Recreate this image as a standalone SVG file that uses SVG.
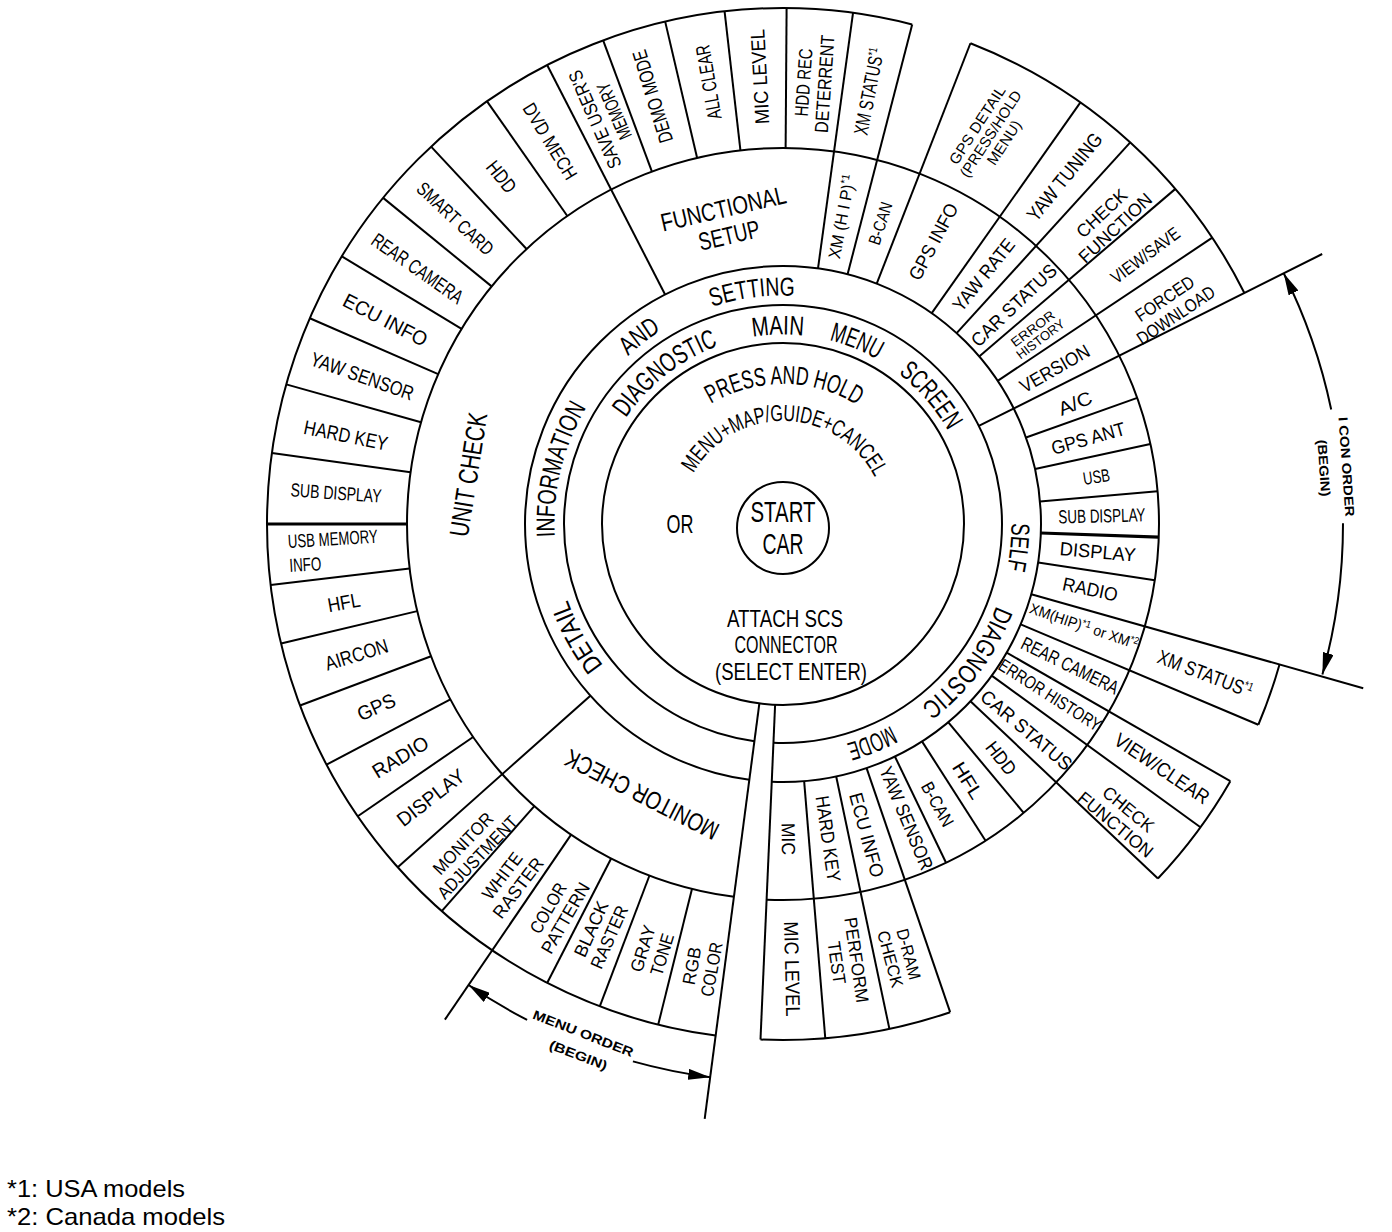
<svg xmlns="http://www.w3.org/2000/svg" width="1392" height="1232" viewBox="0 0 1392 1232">
<defs>
<style>
.ln{fill:none;stroke:#000;stroke-width:2}
.tk{stroke-width:3.2}
text{font-family:'Liberation Sans',Arial,sans-serif;fill:#000;text-anchor:middle}
.b{font-weight:bold}
</style>
<marker id="ah" markerWidth="22" markerHeight="11" refX="22" refY="5.5" orient="auto" markerUnits="userSpaceOnUse"><path d="M0,0 L22,5.5 L0,11 Z" fill="#000" stroke="none"/></marker>
<path id="b189" d="M783,713.5 A189.5,189.5 0 1 1 783,334.5 A189.5,189.5 0 1 1 783,713.5"/>
<path id="b228" d="M783,752.5 A228.5,228.5 0 1 1 783,295.5 A228.5,228.5 0 1 1 783,752.5"/>
<path id="t228" d="M783,295.5 A228.5,228.5 0 1 1 783,752.5 A228.5,228.5 0 1 1 783,295.5"/>
<path id="b140" d="M783,664 A140,140 0 1 1 783,384 A140,140 0 1 1 783,664"/>
<path id="b103" d="M783,627 A103,103 0 1 1 783,421 A103,103 0 1 1 783,627"/>
</defs>
<rect width="1392" height="1232" fill="#fff"/>

<g id="connectors">
<g class="ln" transform="translate(783 524)">
<circle r="181"/>
<circle r="219" pathLength="360" stroke-dasharray="92.5 5 262.5"/>
<circle r="258" pathLength="360" stroke-dasharray="92.5 5 262.5"/>
<circle r="376" pathLength="360" stroke-dasharray="92.5 5 262.5"/>
<circle r="516" pathLength="360" stroke-dasharray="0 15.8 7.1 7 13.5 27.7 21.4 5 187 6.8 42.1 26.6"/>
<line x1="181" x2="600" transform="rotate(97.5)"/>
<line x1="181" x2="516" transform="rotate(92.5)"/>
<line x1="258" x2="516" transform="rotate(85.3)"/>
<line x1="258" x2="516" transform="rotate(78.1)"/>
<line x1="258" x2="516" transform="rotate(71.1)"/>
<line x1="258" x2="376" transform="rotate(64.3)"/>
<line x1="258" x2="376" transform="rotate(57.4)"/>
<line x1="258" x2="376" transform="rotate(50.2)"/>
<line x1="258" x2="516" transform="rotate(43.4)"/>
<line x1="258" x2="516" transform="rotate(36)"/>
<line x1="258" x2="516" transform="rotate(29.9)"/>
<line x1="258" x2="516" transform="rotate(22.9)"/>
<line x1="258" x2="603" transform="rotate(15.8)"/>
<line x1="258" x2="376" transform="rotate(8.6)"/>
<line class="tk" x1="258" x2="376" transform="rotate(2)"/>
<line x1="258" x2="376" transform="rotate(-5)"/>
<line x1="258" x2="376" transform="rotate(-12.3)"/>
<line x1="258" x2="376" transform="rotate(-19.6)"/>
<line x1="219" x2="603" transform="rotate(-26.6)"/>
<line x1="258" x2="516" transform="rotate(-33.7)"/>
<line x1="258" x2="516" transform="rotate(-40.5)"/>
<line x1="258" x2="516" transform="rotate(-47.7)"/>
<line x1="258" x2="516" transform="rotate(-54.8)"/>
<line x1="258" x2="516" transform="rotate(-68.7)"/>
<line x1="258" x2="516" transform="rotate(-75.5)"/>
<line x1="258" x2="516" transform="rotate(-82.2)"/>
<line x1="376" x2="516" transform="rotate(-89.6)"/>
<line x1="376" x2="516" transform="rotate(-96.5)"/>
<line x1="376" x2="516" transform="rotate(-103.2)"/>
<line x1="376" x2="516" transform="rotate(-110.4)"/>
<line x1="258" x2="516" transform="rotate(-117.2)"/>
<line x1="376" x2="516" transform="rotate(-125)"/>
<line x1="376" x2="516" transform="rotate(-133)"/>
<line x1="376" x2="516" transform="rotate(-140.8)"/>
<line x1="376" x2="516" transform="rotate(-148.75)"/>
<line x1="376" x2="516" transform="rotate(-156.5)"/>
<line x1="376" x2="516" transform="rotate(-164.3)"/>
<line x1="376" x2="516" transform="rotate(-172.1)"/>
<line class="tk" x1="376" x2="516" transform="rotate(180)"/>
<line x1="376" x2="516" transform="rotate(173.2)"/>
<line x1="376" x2="516" transform="rotate(166.6)"/>
<line x1="376" x2="516" transform="rotate(159.4)"/>
<line x1="376" x2="516" transform="rotate(152.2)"/>
<line x1="376" x2="516" transform="rotate(145.5)"/>
<line x1="258" x2="516" transform="rotate(138.3)"/>
<line x1="376" x2="516" transform="rotate(131.4)"/>
<line x1="376" x2="600" transform="rotate(124.3)"/>
<line x1="376" x2="516" transform="rotate(117.2)"/>
<line x1="376" x2="516" transform="rotate(110.8)"/>
<line x1="376" x2="516" transform="rotate(104)"/>
</g>
<circle class="ln" cx="783" cy="528" r="46"/>
<g class="ln">
<path d="M1331.2,409.5 A560,560 0 0 0 1283.7,273.3" marker-end="url(#ah)"/>
<path d="M1343,523.3 A560,560 0 0 1 1322.4,674.6" marker-end="url(#ah)"/>
<path d="M527.1,1019.9 A558,558 0 0 1 468.6,985" marker-end="url(#ah)"/>
<path d="M632.9,1061.4 A558,558 0 0 0 710.2,1077.2" marker-end="url(#ah)"/>
</g>
</g>

<g id="center">
<text x="783" y="522" font-size="30" textLength="65" lengthAdjust="spacingAndGlyphs">START</text>
<text x="783" y="554" font-size="30" textLength="41" lengthAdjust="spacingAndGlyphs">CAR</text>
<text x="680" y="533" font-size="25" textLength="27" lengthAdjust="spacingAndGlyphs">OR</text>
<text x="785" y="627" font-size="24" textLength="116" lengthAdjust="spacingAndGlyphs">ATTACH SCS</text>
<text x="786" y="653" font-size="24" textLength="103" lengthAdjust="spacingAndGlyphs">CONNECTOR</text>
<text x="791" y="680" font-size="24" textLength="152" lengthAdjust="spacingAndGlyphs">(SELECT ENTER)</text>
<text font-size="26"><textPath href="#b140" startOffset="50.14%" textLength="154" lengthAdjust="spacingAndGlyphs">PRESS AND HOLD</textPath></text>
<text font-size="23"><textPath href="#b103" startOffset="50.36%" textLength="222" lengthAdjust="spacingAndGlyphs">MENU+MAP/GUIDE+CANCEL</textPath></text>
</g>

<g id="ring1">
<text font-size="27"><textPath href="#b189" startOffset="39.44%" textLength="119" lengthAdjust="spacingAndGlyphs">DIAGNOSTIC</textPath></text>
<text font-size="27"><textPath href="#b189" startOffset="49.58%" textLength="51" lengthAdjust="spacingAndGlyphs">MAIN</textPath></text>
<text font-size="27"><textPath href="#b189" startOffset="56.11%" textLength="52" lengthAdjust="spacingAndGlyphs">MENU</textPath></text>
<text font-size="27"><textPath href="#b189" startOffset="63.61%" textLength="76" lengthAdjust="spacingAndGlyphs">SCREEN</textPath></text>
</g>

<g id="ring2-info">
<text font-size="26"><textPath href="#b228" startOffset="17.0%" textLength="75" lengthAdjust="spacingAndGlyphs">DETAIL</textPath></text>
<text font-size="26"><textPath href="#b228" startOffset="28.81%" textLength="135" lengthAdjust="spacingAndGlyphs">INFORMATION</textPath></text>
<text font-size="26"><textPath href="#b228" startOffset="39.6%" textLength="42" lengthAdjust="spacingAndGlyphs">AND</textPath></text>
<text font-size="26"><textPath href="#b228" startOffset="47.89%" textLength="84" lengthAdjust="spacingAndGlyphs">SETTING</textPath></text>
</g>
<g id="ring2-self">
<text font-size="26"><textPath href="#t228" startOffset="26.57%" textLength="47" lengthAdjust="spacingAndGlyphs">SELF</textPath></text>
<text font-size="26"><textPath href="#t228" startOffset="35.25%" textLength="127" lengthAdjust="spacingAndGlyphs">DIAGNOSTIC</textPath></text>
<text font-size="26"><textPath href="#t228" startOffset="43.86%" textLength="48" lengthAdjust="spacingAndGlyphs">MODE</textPath></text>
</g>

<g id="unit-check" transform="translate(468 474.5) rotate(-81)"><text y="9.7" font-size="27" textLength="125" lengthAdjust="spacingAndGlyphs">UNIT CHECK</text></g>
<g id="functional-setup">
<text transform="translate(723.3 208.3) rotate(-13)" y="9" font-size="25" textLength="128" lengthAdjust="spacingAndGlyphs">FUNCTIONAL</text>
<text transform="translate(729 235) rotate(-13)" y="9" font-size="25" textLength="62" lengthAdjust="spacingAndGlyphs">SETUP</text>
</g>
<g id="monitor-check" transform="translate(641.7 795) rotate(207)"><text y="9" font-size="25" textLength="169" lengthAdjust="spacingAndGlyphs">MONITOR CHECK</text></g>

<!-- ring 4 left (unit check items) -->
<g id="u-display" transform="translate(783 524) rotate(142.2) translate(446 0) rotate(180)"><text y="7.2" font-size="20" textLength="80" lengthAdjust="spacingAndGlyphs">DISPLAY</text></g>
<g id="u-radio" transform="translate(783 524) rotate(148.7) translate(448 0) rotate(180)"><text y="7.2" font-size="20" textLength="62" lengthAdjust="spacingAndGlyphs">RADIO</text></g>
<g id="u-gps" transform="translate(783 524) rotate(155.8) translate(446 0) rotate(180)"><text y="7.2" font-size="20" textLength="40" lengthAdjust="spacingAndGlyphs">GPS</text></g>
<g id="u-aircon" transform="translate(783 524) rotate(163) translate(446 0) rotate(180)"><text y="7.2" font-size="20" textLength="65" lengthAdjust="spacingAndGlyphs">AIRCON</text></g>
<g id="u-hfl" transform="translate(783 524) rotate(169.9) translate(446 0) rotate(180)"><text y="7.2" font-size="20" textLength="33" lengthAdjust="spacingAndGlyphs">HFL</text></g>
<g id="u-usbmem" transform="rotate(-3.4 289 560)">
<text x="289" y="548" font-size="19" style="text-anchor:start" textLength="90" lengthAdjust="spacingAndGlyphs">USB MEMORY</text>
<text x="289" y="572" font-size="19" style="text-anchor:start" textLength="32" lengthAdjust="spacingAndGlyphs">INFO</text>
</g>
<g id="u-subdisplay" transform="translate(783 524) rotate(184) translate(448 0) rotate(180)"><text y="6.8" font-size="19" textLength="91" lengthAdjust="spacingAndGlyphs">SUB DISPLAY</text></g>
<g id="u-hardkey" transform="translate(783 524) rotate(-168.5) translate(446 0) rotate(180)"><text y="7.2" font-size="20" textLength="85" lengthAdjust="spacingAndGlyphs">HARD KEY</text></g>
<g id="u-yawsensor" transform="translate(783 524) rotate(-160.6) translate(446 0) rotate(180)"><text y="7.2" font-size="20" textLength="108" lengthAdjust="spacingAndGlyphs">YAW SENSOR</text></g>
<g id="u-ecuinfo" transform="translate(783 524) rotate(-152.8) translate(447 0) rotate(180)"><text y="7.2" font-size="20" textLength="92" lengthAdjust="spacingAndGlyphs">ECU INFO</text></g>
<g id="u-rearcamera" transform="translate(783 524) rotate(-145) translate(446 0) rotate(180)"><text y="7.2" font-size="20" textLength="107" lengthAdjust="spacingAndGlyphs">REAR CAMERA</text></g>
<g id="u-smartcard" transform="translate(783 524) rotate(-137) translate(448 0) rotate(180)"><text y="6.8" font-size="19" textLength="97" lengthAdjust="spacingAndGlyphs">SMART CARD</text></g>
<g id="u-hdd" transform="translate(783 524) rotate(-129) translate(447 0) rotate(180)"><text y="7.2" font-size="20" textLength="35" lengthAdjust="spacingAndGlyphs">HDD</text></g>
<g id="u-dvdmech" transform="translate(783 524) rotate(-121.3) translate(448 0) rotate(180)"><text y="6.8" font-size="19" textLength="86" lengthAdjust="spacingAndGlyphs">DVD MECH</text></g>

<!-- ring 4 top (functional setup items) -->
<g id="f-saveuser" transform="translate(783 524) rotate(-113.6) translate(446 0)"><text y="-3.7" font-size="19" textLength="105" lengthAdjust="spacingAndGlyphs">SAVE USER'S</text><text y="17.3" font-size="19" textLength="60" lengthAdjust="spacingAndGlyphs">MEMORY</text></g>
<g id="f-demomode" transform="translate(783 524) rotate(-107) translate(447 0)"><text y="7.2" font-size="20" textLength="96" lengthAdjust="spacingAndGlyphs">DEMO MODE</text></g>
<g id="f-allclear" transform="translate(783 524) rotate(-99.6) translate(448 0)"><text y="7.2" font-size="20" textLength="75" lengthAdjust="spacingAndGlyphs">ALL CLEAR</text></g>
<g id="f-miclevel" transform="translate(783 524) rotate(-93) translate(448 0)"><text y="7.2" font-size="20" textLength="95" lengthAdjust="spacingAndGlyphs">MIC LEVEL</text></g>
<g id="f-hddrec" transform="translate(783 524) rotate(-86) translate(442 0)"><text y="-3.7" font-size="19" textLength="68" lengthAdjust="spacingAndGlyphs">HDD REC</text><text y="17.3" font-size="19" textLength="98" lengthAdjust="spacingAndGlyphs">DETERRENT</text></g>
<g id="f-xmstatus" transform="translate(783 524) rotate(-78.8) translate(441 0)"><text y="7.2" font-size="20" textLength="88" lengthAdjust="spacingAndGlyphs">XM STATUS<tspan font-size="12" dy="-7">*1</tspan></text></g>

<!-- ring 4 upper right -->
<g id="s-gpsdetail" transform="translate(783 524) rotate(-62) translate(442 0) rotate(5)"><text y="-10.6" font-size="15" textLength="90" lengthAdjust="spacingAndGlyphs">GPS DETAIL</text><text y="5.4" font-size="15" textLength="100" lengthAdjust="spacingAndGlyphs">(PRESS/HOLD</text><text y="21.4" font-size="15" textLength="50" lengthAdjust="spacingAndGlyphs">MENU)</text></g>
<g id="s-yawtuning" transform="translate(783 524) rotate(-51) translate(447 0)"><text y="7.2" font-size="20" textLength="107" lengthAdjust="spacingAndGlyphs">YAW TUNING</text></g>
<g id="s-checkfunction1" transform="translate(783 524) rotate(-43) translate(445 0)"><text y="-3.6" font-size="18" textLength="62" lengthAdjust="spacingAndGlyphs">CHECK</text><text y="16.4" font-size="18" textLength="93" lengthAdjust="spacingAndGlyphs">FUNCTION</text></g>
<g id="s-viewsave" transform="translate(783 524) rotate(-36.6) translate(451 0)"><text y="6.4" font-size="18" textLength="81" lengthAdjust="spacingAndGlyphs">VIEW/SAVE</text></g>
<g id="s-forced" transform="translate(783 524) rotate(-29.3) translate(444 0) rotate(-4.7)"><text y="-3.6" font-size="18" textLength="67" lengthAdjust="spacingAndGlyphs">FORCED</text><text y="16.4" font-size="18" textLength="90" lengthAdjust="spacingAndGlyphs">DOWNLOAD</text></g>

<!-- ring 4 right -->
<g id="s-xmstatus" transform="translate(783 524) rotate(19.5) translate(448 0) rotate(1.5)"><text y="7.2" font-size="20" textLength="100" lengthAdjust="spacingAndGlyphs">XM STATUS<tspan font-size="12" dy="-7">*1</tspan></text></g>
<g id="s-viewclear" transform="translate(783 524) rotate(32.8) translate(451 0) rotate(1.2)"><text y="7.2" font-size="20" textLength="110" lengthAdjust="spacingAndGlyphs">VIEW/CLEAR</text></g>
<g id="s-checkfunction2" transform="translate(783 524) rotate(40.8) translate(448 0) rotate(-1)"><text y="-3.6" font-size="18" textLength="61" lengthAdjust="spacingAndGlyphs">CHECK</text><text y="16.4" font-size="18" textLength="92" lengthAdjust="spacingAndGlyphs">FUNCTION</text></g>

<!-- ring 4 bottom -->
<g id="s-dram" transform="translate(783 524) rotate(74.9) translate(448 0)"><text y="-3.4" font-size="17" textLength="52" lengthAdjust="spacingAndGlyphs">D-RAM</text><text y="15.6" font-size="17" textLength="58" lengthAdjust="spacingAndGlyphs">CHECK</text></g>
<g id="s-perform" transform="translate(783 524) rotate(81.7) translate(442 0)"><text y="-3.6" font-size="18" textLength="86" lengthAdjust="spacingAndGlyphs">PERFORM</text><text y="16.4" font-size="18" textLength="43" lengthAdjust="spacingAndGlyphs">TEST</text></g>
<g id="s-miclevel" transform="translate(783 524) rotate(88.8) translate(445 0)"><text y="7.2" font-size="20" textLength="95" lengthAdjust="spacingAndGlyphs">MIC LEVEL</text></g>

<!-- ring 4 lower left (monitor check items) -->
<g id="m-monitoradj" transform="translate(783 524) rotate(133.8) translate(452 0) rotate(180)"><text y="-3.6" font-size="18" textLength="78" lengthAdjust="spacingAndGlyphs">MONITOR</text><text y="16.4" font-size="18" textLength="107" lengthAdjust="spacingAndGlyphs">ADJUSTMENT</text></g>
<g id="m-white" transform="translate(783 524) rotate(127.35) translate(450 0) rotate(180)"><text y="-3.6" font-size="18" textLength="54" lengthAdjust="spacingAndGlyphs">WHITE</text><text y="16.4" font-size="18" textLength="71" lengthAdjust="spacingAndGlyphs">RASTER</text></g>
<g id="m-color" transform="translate(783 524) rotate(120.2) translate(450 0) rotate(180)"><text y="-3.6" font-size="18" textLength="55" lengthAdjust="spacingAndGlyphs">COLOR</text><text y="16.4" font-size="18" textLength="79" lengthAdjust="spacingAndGlyphs">PATTERN</text></g>
<g id="m-black" transform="translate(783 524) rotate(114.1) translate(448 0) rotate(180)"><text y="-3.6" font-size="18" textLength="59" lengthAdjust="spacingAndGlyphs">BLACK</text><text y="16.4" font-size="18" textLength="67" lengthAdjust="spacingAndGlyphs">RASTER</text></g>
<g id="m-gray" transform="translate(783 524) rotate(107) translate(447 0) rotate(180)"><text y="-3.6" font-size="18" textLength="48" lengthAdjust="spacingAndGlyphs">GRAY</text><text y="16.4" font-size="18" textLength="43" lengthAdjust="spacingAndGlyphs">TONE</text></g>
<g id="m-rgb" transform="translate(783 524) rotate(100.4) translate(451 0) rotate(180)"><text y="-3.6" font-size="18" textLength="38" lengthAdjust="spacingAndGlyphs">RGB</text><text y="16.4" font-size="18" textLength="55" lengthAdjust="spacingAndGlyphs">COLOR</text></g>

<!-- ring 3 right (self diagnostic items) -->
<g id="d-xmhip" transform="translate(783 524) rotate(-79.2) translate(313 0)"><text y="6.1" font-size="17" textLength="85" lengthAdjust="spacingAndGlyphs">XM (H I P)<tspan font-size="11" dy="-6">*1</tspan></text></g>
<g id="d-bcan1" transform="translate(783 524) rotate(-72.1) translate(316 0)"><text y="6.1" font-size="17" textLength="44" lengthAdjust="spacingAndGlyphs">B-CAN</text></g>
<g id="d-gpsinfo" transform="translate(783 524) rotate(-62) translate(320 0)"><text y="6.8" font-size="19" textLength="84" lengthAdjust="spacingAndGlyphs">GPS INFO</text></g>
<g id="d-yawrate" transform="translate(783 524) rotate(-51.2) translate(320 0)"><text y="6.8" font-size="19" textLength="87" lengthAdjust="spacingAndGlyphs">YAW RATE</text></g>
<g id="d-carstatus1" transform="translate(783 524) rotate(-43.5) translate(318 0)"><text y="6.8" font-size="19" textLength="110" lengthAdjust="spacingAndGlyphs">CAR STATUS</text></g>
<g id="d-errorhistory1" transform="translate(783 524) rotate(-36.9) translate(317 0)"><text y="-1.8" font-size="13" textLength="51" lengthAdjust="spacingAndGlyphs">ERROR</text><text y="11.2" font-size="13" textLength="57" lengthAdjust="spacingAndGlyphs">HISTORY</text></g>
<g id="d-version" transform="translate(783 524) rotate(-29.8) translate(313 0)"><text y="6.8" font-size="19" textLength="77" lengthAdjust="spacingAndGlyphs">VERSION</text></g>
<g id="d-ac" transform="translate(783 524) rotate(-22.5) translate(316 0)"><text y="6.8" font-size="19" textLength="35" lengthAdjust="spacingAndGlyphs">A/C</text></g>
<g id="d-gpsant" transform="translate(783 524) rotate(-15.7) translate(317 0)"><text y="6.8" font-size="19" textLength="76" lengthAdjust="spacingAndGlyphs">GPS ANT</text></g>
<g id="d-usb" transform="translate(783 524) rotate(-8.6) translate(317 0)"><text y="6.4" font-size="18" textLength="27" lengthAdjust="spacingAndGlyphs">USB</text></g>
<g id="d-subdisplay" transform="translate(783 524) rotate(-1.5) translate(319 0)"><text y="6.8" font-size="19" textLength="87" lengthAdjust="spacingAndGlyphs">SUB DISPLAY</text></g>
<g id="d-display" transform="translate(783 524) rotate(5) translate(316 0)"><text y="6.8" font-size="19" textLength="76" lengthAdjust="spacingAndGlyphs">DISPLAY</text></g>
<g id="d-radio" transform="translate(783 524) rotate(11.95) translate(314 0)"><text y="6.8" font-size="19" textLength="56" lengthAdjust="spacingAndGlyphs">RADIO</text></g>
<g id="d-xmor" transform="translate(783 524) rotate(18.7) translate(318 0)"><text y="5.4" font-size="15" textLength="114" lengthAdjust="spacingAndGlyphs">XM(HIP)<tspan font-size="10" dy="-5">*1</tspan><tspan dy="5"> or XM</tspan><tspan font-size="10" dy="-5">*2</tspan></text></g>
<g id="d-rearcamera" transform="translate(783 524) rotate(26.2) translate(320 0)"><text y="6.8" font-size="19" textLength="106" lengthAdjust="spacingAndGlyphs">REAR CAMERA</text></g>
<g id="d-errorhistory2" transform="translate(783 524) rotate(32.6) translate(317 0)"><text y="6.4" font-size="18" textLength="118" lengthAdjust="spacingAndGlyphs">ERROR HISTORY</text></g>
<g id="d-carstatus2" transform="translate(783 524) rotate(40.2) translate(319 0)"><text y="6.8" font-size="19" textLength="113" lengthAdjust="spacingAndGlyphs">CAR STATUS</text></g>
<g id="d-hdd" transform="translate(783 524) rotate(47) translate(320 0) rotate(5)"><text y="6.8" font-size="19" textLength="37" lengthAdjust="spacingAndGlyphs">HDD</text></g>
<g id="d-hfl" transform="translate(783 524) rotate(54.2) translate(316 0) rotate(4)"><text y="6.8" font-size="19" textLength="40" lengthAdjust="spacingAndGlyphs">HFL</text></g>
<g id="d-bcan2" transform="translate(783 524) rotate(61.1) translate(320 0)"><text y="6.4" font-size="18" textLength="48" lengthAdjust="spacingAndGlyphs">B-CAN</text></g>
<g id="d-yawsensor" transform="translate(783 524) rotate(67.2) translate(319 0)"><text y="6.8" font-size="19" textLength="110" lengthAdjust="spacingAndGlyphs">YAW SENSOR</text></g>
<g id="d-ecuinfo" transform="translate(783 524) rotate(74.9) translate(322 0)"><text y="6.8" font-size="19" textLength="87" lengthAdjust="spacingAndGlyphs">ECU INFO</text></g>
<g id="d-hardkey" transform="translate(783 524) rotate(81.8) translate(318 0)"><text y="6.8" font-size="19" textLength="87" lengthAdjust="spacingAndGlyphs">HARD KEY</text></g>
<g id="d-mic" transform="translate(783 524) rotate(89) translate(315 0)"><text y="6.8" font-size="19" textLength="32" lengthAdjust="spacingAndGlyphs">MIC</text></g>

<g id="icon-order">
<text class="b" transform="translate(1346.7 466.7) rotate(86)" y="4.7" font-size="13" textLength="100" lengthAdjust="spacingAndGlyphs">I CON ORDER</text>
<text class="b" transform="translate(1324 468) rotate(86)" y="4.7" font-size="13" textLength="57" lengthAdjust="spacingAndGlyphs">(BEGIN)</text>
</g>
<g id="menu-order">
<text class="b" transform="translate(583.3 1033.3) rotate(21.4)" y="4.7" font-size="13" textLength="107" lengthAdjust="spacingAndGlyphs">MENU ORDER</text>
<text class="b" transform="translate(578.3 1055) rotate(21)" y="4.7" font-size="13" textLength="61" lengthAdjust="spacingAndGlyphs">(BEGIN)</text>
</g>

<g id="footnotes">
<text x="7" y="1197" font-size="24" style="text-anchor:start" textLength="178" lengthAdjust="spacingAndGlyphs">*1: USA models</text>
<text x="7" y="1225" font-size="24" style="text-anchor:start" textLength="218" lengthAdjust="spacingAndGlyphs">*2: Canada models</text>
</g>
</svg>
